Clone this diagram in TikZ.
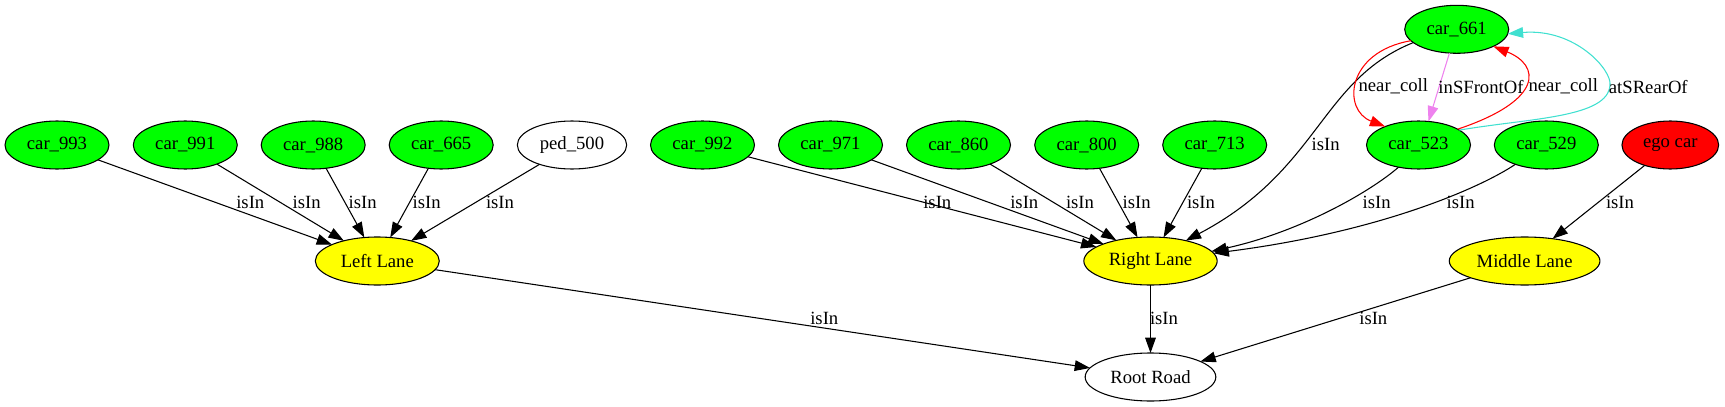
\documentclass[tikz,border=0pt]{standalone}
\usepackage{fontspec}
\setmainfont{Liberation Serif}
\usetikzlibrary{shapes.geometric,arrows.meta}
\definecolor{ggreen}{HTML}{00FF00}
\definecolor{gyellow}{HTML}{FFFF00}
\definecolor{gred}{HTML}{FF0000}
\definecolor{gviolet}{HTML}{EE82EE}
\definecolor{gturq}{HTML}{40E0D0}
\begin{document}
\begin{tikzpicture}[x=0.75pt,y=-0.75pt,
  base/.style={ellipse,draw=black,line width=0.8pt,inner sep=0pt,outer sep=0pt,
    minimum height=36pt,font=\fontsize{14}{16}\selectfont},
  car/.style={base,fill=ggreen,minimum width=78pt},
  lane/.style={base,fill=gyellow},
  plain/.style={base,fill=white},
  edge/.style={line width=0.8pt,-{Triangle[length=11.5pt,width=8pt]}},
  lbl/.style={font=\fontsize{14}{16}\selectfont,inner sep=0pt}
]
\useasboundingbox (0,0) rectangle (1725,407);
% top car
\node[car] (c661) at (1456.7,29.3) {car\_661};
% row of cars
\node[car] (c993) at (57,145) {car\_993};
\node[car] (c991) at (185.3,145) {car\_991};
\node[car] (c988) at (313.2,145) {car\_988};
\node[car] (c665) at (441.2,145) {car\_665};
\node[plain,minimum width=82pt] (p500) at (572,145) {ped\_500};
\node[car] (c992) at (702.5,145) {car\_992};
\node[car] (c971) at (830.5,145) {car\_971};
\node[car] (c860) at (958.5,145) {car\_860};
\node[car] (c800) at (1086.7,145) {car\_800};
\node[car] (c713) at (1214.7,145) {car\_713};
\node[car] (c523) at (1418.5,145) {car\_523};
\node[car] (c529) at (1546.3,145) {car\_529};
\node[base,fill=gred,minimum width=72.5pt] (ego) at (1670.3,145) {ego car};
% lanes
\node[lane,minimum width=93pt] (LL) at (377.3,261) {Left Lane};
\node[lane,minimum width=100pt] (RL) at (1150.5,261) {Right Lane};
\node[lane,minimum width=113pt] (ML) at (1524.6,261) {Middle Lane};
\node[plain,minimum width=98pt] (RR) at (1150.5,377) {Root Road};
% left lane edges
\draw[edge] (c993) -- (LL) node[lbl] (l1) at (250.3,202.3) {isIn};
\draw[edge] (c991) -- (LL) node[lbl] (l2) at (306.7,202.3) {isIn};
\draw[edge] (c988) -- (LL) node[lbl] (l3) at (362.7,202.3) {isIn};
\draw[edge] (c665) -- (LL) node[lbl] (l4) at (426.7,202.3) {isIn};
\draw[edge] (p500) -- (LL) node[lbl] (l5) at (500,202.3) {isIn};
% right lane edges
\draw[edge] (c992) -- (RL) node[lbl] (l6) at (937.3,202.3) {isIn};
\draw[edge] (c971) -- (RL) node[lbl] (l7) at (1024.3,202.3) {isIn};
\draw[edge] (c860) -- (RL) node[lbl] (l8) at (1080,202.3) {isIn};
\draw[edge] (c800) -- (RL) node[lbl] (l9) at (1136.7,202.3) {isIn};
\draw[edge] (c713) -- (RL) node[lbl] (l10) at (1201,202.3) {isIn};
\draw[edge] (c661.197) .. controls (1320,80) and (1320,170) .. (RL.30)
  node[lbl] (l11) at (1325.7,144.3) {isIn};
\draw[edge] (c523.228) .. controls (1370,192) and (1300,232) .. (RL.9)
  node[lbl] (l12) at (1376.7,202.3) {isIn};
\draw[edge] (c529.212) .. controls (1480,188) and (1380,232) .. (RL.7)
  node[lbl] (l13) at (1460.7,202.3) {isIn};
\draw[edge] (ego) -- (ML) node[lbl] (l14) at (1620,202.3) {isIn};
% road edges
\draw[edge] (LL) -- (RR) node[lbl] (l15) at (824.3,318.3) {isIn};
\draw[edge] (RL) -- (RR) node[lbl] (l16) at (1164,318.3) {isIn};
\draw[edge] (ML) -- (RR) node[lbl] (l17) at (1373.3,318.3) {isIn};
% relations between car_661 and car_523
\draw[edge,draw=gred] (c661.194) .. controls (1346,52) and (1342,110) .. (c523.151)
  node[lbl] (l18) at (1393.3,86.7) {near\_coll};
\draw[edge,draw=gviolet] (c661.253) -- (c523.67)
  node[lbl] (l19) at (1481,86.7) {inSFrontOf};
\draw[edge,draw=gred] (c523.22) .. controls (1545,100) and (1540,65) .. (c661.335)
  node[lbl] (l20) at (1563.3,86.7) {near\_coll};
\draw[edge,draw=gturq] (c523.20) .. controls (1530,118) and (1608,118) .. (1610,85)
  .. controls (1612,70) and (1575,28) .. (c661.355)
  node[lbl] (l21) at (1648.3,86.7) {atSRearOf};
\end{tikzpicture}
\end{document}
